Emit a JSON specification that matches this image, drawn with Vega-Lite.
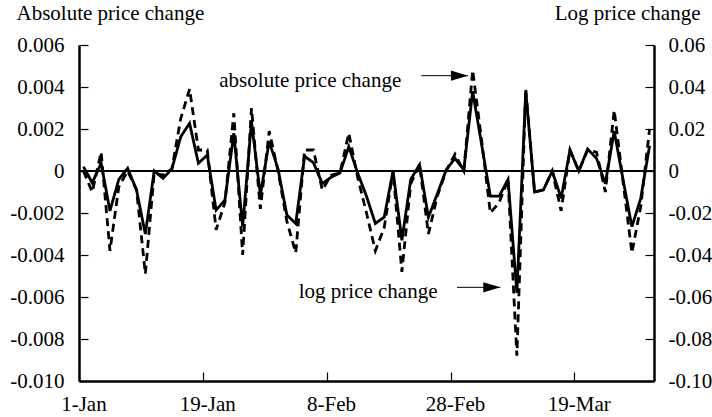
{
  "$schema": "https://vega.github.io/schema/vega-lite/v6.json",
  "width": 575,
  "height": 336,
  "autosize": "none",
  "padding": {"left": 79, "top": 45, "right": 58, "bottom": 36},
  "background": "white",
  "config": {
    "view": {"stroke": null},
    "font": "Liberation Serif",
    "axis": {
      "grid": false,
      "domainColor": "black",
      "domainWidth": 2.5,
      "tickColor": "black",
      "tickWidth": 1.2,
      "tickSize": -9,
      "labelFont": "Liberation Serif",
      "labelFontSize": 21,
      "labelColor": "black",
      "labelFlush": false,
      "labelOverlap": false,
      "titleFont": "Liberation Serif",
      "titleFontSize": 21,
      "titleFontWeight": "normal",
      "titleColor": "black"
    }
  },
  "datasets": {
    "series": [
      {"t": 0, "abs": 0.0, "log": 0.002},
      {"t": 1, "abs": -0.001, "log": -0.0056},
      {"t": 2, "abs": 0.0009, "log": 0.0037},
      {"t": 3, "abs": -0.0038, "log": -0.019},
      {"t": 4, "abs": -0.00075, "log": -0.004},
      {"t": 5, "abs": 0.0, "log": 0.0013},
      {"t": 6, "abs": -0.0009, "log": -0.009},
      {"t": 7, "abs": -0.0049, "log": -0.03},
      {"t": 8, "abs": -0.0001, "log": 0.0},
      {"t": 9, "abs": -0.0002, "log": -0.0035},
      {"t": 10, "abs": 0.0001, "log": 0.001},
      {"t": 11, "abs": 0.0025, "log": 0.0163},
      {"t": 12, "abs": 0.0039, "log": 0.0227},
      {"t": 13, "abs": 0.001, "log": 0.0037},
      {"t": 14, "abs": 0.001, "log": 0.0076},
      {"t": 15, "abs": -0.0028, "log": -0.0186},
      {"t": 16, "abs": -0.0015, "log": -0.0138},
      {"t": 17, "abs": 0.00275, "log": 0.018},
      {"t": 18, "abs": -0.004, "log": -0.0265},
      {"t": 19, "abs": 0.003, "log": 0.0235},
      {"t": 20, "abs": -0.0018, "log": -0.0114},
      {"t": 21, "abs": 0.0019, "log": 0.014},
      {"t": 22, "abs": 0.0, "log": 0.001},
      {"t": 23, "abs": -0.0024, "log": -0.021},
      {"t": 24, "abs": -0.0039, "log": -0.025},
      {"t": 25, "abs": 0.001, "log": 0.007},
      {"t": 26, "abs": 0.001, "log": 0.004},
      {"t": 27, "abs": -0.0009, "log": -0.006},
      {"t": 28, "abs": -0.0002, "log": -0.003},
      {"t": 29, "abs": -0.0001, "log": -0.001},
      {"t": 30, "abs": 0.0018, "log": 0.0116},
      {"t": 31, "abs": -0.0003, "log": -0.001},
      {"t": 32, "abs": -0.002, "log": -0.012},
      {"t": 33, "abs": -0.0038, "log": -0.025},
      {"t": 34, "abs": -0.0027, "log": -0.022},
      {"t": 35, "abs": 0.0, "log": 0.0},
      {"t": 36, "abs": -0.0048, "log": -0.033},
      {"t": 37, "abs": -0.0006, "log": -0.004},
      {"t": 38, "abs": 0.0003, "log": 0.003},
      {"t": 39, "abs": -0.003, "log": -0.022},
      {"t": 40, "abs": -0.0012, "log": -0.011},
      {"t": 41, "abs": 0.0, "log": 0.0005},
      {"t": 42, "abs": 0.0008, "log": 0.006},
      {"t": 43, "abs": 0.0, "log": 0.0005},
      {"t": 44, "abs": 0.0048, "log": 0.038},
      {"t": 45, "abs": 0.0015, "log": 0.013},
      {"t": 46, "abs": -0.002, "log": -0.012},
      {"t": 47, "abs": -0.0015, "log": -0.012},
      {"t": 48, "abs": -0.0004, "log": -0.004},
      {"t": 49, "abs": -0.0088, "log": -0.058},
      {"t": 50, "abs": 0.0039, "log": 0.038},
      {"t": 51, "abs": -0.001, "log": -0.01},
      {"t": 52, "abs": -0.0009, "log": -0.009},
      {"t": 53, "abs": 0.0, "log": 0.0},
      {"t": 54, "abs": -0.0019, "log": -0.013},
      {"t": 55, "abs": 0.001, "log": 0.01},
      {"t": 56, "abs": 0.0, "log": 0.0},
      {"t": 57, "abs": 0.001, "log": 0.0105},
      {"t": 58, "abs": 0.0009, "log": 0.006},
      {"t": 59, "abs": -0.001, "log": -0.006},
      {"t": 60, "abs": 0.0029, "log": 0.019},
      {"t": 61, "abs": -0.0005, "log": -0.004},
      {"t": 62, "abs": -0.0039, "log": -0.0265},
      {"t": 63, "abs": -0.0017, "log": -0.013},
      {"t": 64, "abs": 0.002, "log": 0.012}
    ],
    "notes": [
      {"t": 15.36, "v": 0.00401, "label": "absolute price change"},
      {"t": 24.34, "v": -0.00605, "label": "log price change"}
    ],
    "arrows": [
      {"t1": 38.2, "t2": 43.47, "v": 0.00454},
      {"t1": 42.23, "t2": 47.13, "v": -0.00554}
    ]
  },
  "layer": [
    {
      "layer": [
        {
          "data": {"name": "series"},
          "mark": {"type": "rule", "color": "black", "strokeWidth": 1},
          "encoding": {
            "y": {"datum": 0, "type": "quantitative", "scale": {"domain": [-0.01, 0.006], "nice": false, "zero": false}}
          }
        },
        {
          "data": {"name": "series"},
          "mark": {"type": "line", "color": "black", "strokeWidth": 2.8, "strokeDash": [8, 5]},
          "encoding": {
            "x": {
              "field": "t", "type": "quantitative",
              "scale": {"domain": [-0.5, 64.5], "nice": false, "zero": false},
              "axis": {
                "title": null,
                "values": [-0.5, 13.5, 27.5, 41.5, 55.5],
                "labelOffset": 4.42,
                "labelBaseline": "alphabetic",
                "labelPadding": 38,
                "labelExpr": "datum.value < 0 ? '1-Jan' : datum.value < 14 ? '19-Jan' : datum.value < 28 ? '8-Feb' : datum.value < 42 ? '28-Feb' : '19-Mar'"
              }
            },
            "y": {
              "field": "abs", "type": "quantitative",
              "scale": {"domain": [-0.01, 0.006], "nice": false, "zero": false},
              "axis": {
                "title": "Absolute price change",
                "titleAngle": 0,
                "titleAlign": "left",
                "titleBaseline": "alphabetic",
                "titleX": -63,
                "titleY": -26,
                "values": [-0.01, -0.008, -0.006, -0.004, -0.002, 0, 0.002, 0.004, 0.006],
                "labelPadding": 24,
                "labelExpr": "datum.value == 0 ? '0' : (datum.value < 0 ? '-' : '') + format(abs(datum.value), '.3f')"
              }
            }
          }
        },
        {
          "data": {"name": "notes"},
          "mark": {"type": "text", "align": "left", "baseline": "alphabetic", "font": "Liberation Serif", "fontSize": 21, "color": "black"},
          "encoding": {
            "x": {"field": "t", "type": "quantitative"},
            "y": {"field": "v", "type": "quantitative"},
            "text": {"field": "label"}
          }
        },
        {
          "data": {"name": "arrows"},
          "mark": {"type": "rule", "color": "black", "strokeWidth": 1},
          "encoding": {
            "x": {"field": "t1", "type": "quantitative"},
            "x2": {"field": "t2"},
            "y": {"field": "v", "type": "quantitative"}
          }
        },
        {
          "data": {"name": "arrows"},
          "mark": {"type": "point", "filled": true, "color": "black", "opacity": 1, "shape": "M0,0L-2,-0.6L-2,0.6Z", "size": 290},
          "encoding": {
            "x": {"field": "t2", "type": "quantitative"},
            "y": {"field": "v", "type": "quantitative"}
          }
        }
      ]
    },
    {
      "data": {"name": "series"},
      "mark": {"type": "line", "color": "black", "strokeWidth": 2.8},
      "encoding": {
        "x": {"field": "t", "type": "quantitative"},
        "y": {
          "field": "log", "type": "quantitative",
          "scale": {"domain": [-0.1, 0.06], "nice": false, "zero": false},
          "axis": {
            "orient": "right",
            "title": "Log price change",
            "titleAngle": 0,
            "titleAlign": "right",
            "titleBaseline": "alphabetic",
            "titleX": 46,
            "titleY": -26,
            "values": [-0.1, -0.08, -0.06, -0.04, -0.02, 0, 0.02, 0.04, 0.06],
            "labelPadding": 23,
            "labelExpr": "datum.value == 0 ? '0' : (datum.value < 0 ? '-' : '') + format(abs(datum.value), '.2f')"
          }
        }
      }
    }
  ],
  "resolve": {"scale": {"y": "independent"}, "axis": {"y": "independent"}}
}
